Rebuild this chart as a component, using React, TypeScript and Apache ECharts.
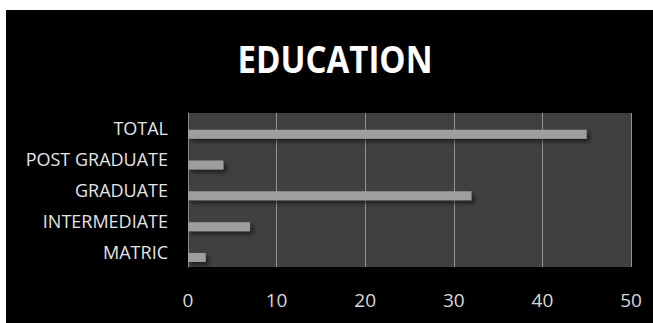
import React, { useEffect, useRef } from "react";
import * as echarts from "echarts";

// Education levels, listed bottom to top as the y axis draws them
const categories = ["MATRIC", "INTERMEDIATE", "GRADUATE", "POST GRADUATE", "TOTAL"];
const counts = [2, 7, 32, 4, 45];
const xTicks = [0, 10, 20, 30, 40, 50];

export default function App() {
  const ref = useRef<HTMLDivElement>(null);

  useEffect(() => {
    if (!ref.current) return;
    const chart = echarts.init(ref.current, null, { renderer: "svg" });
    chart.setOption({
      animation: false,
      backgroundColor: "#ffffff",
      graphic: [
        {
          type: "rect",
          z: -10,
          shape: { x: 6, y: 10, width: 653, height: 323 },
          style: { fill: "#000000" },
          silent: true,
        },
        {
          type: "text",
          x: 335,
          y: 58,
          scaleX: 0.87,
          style: {
            text: "EDUCATION",
            fill: "#ffffff",
            font: "bold 38px 'Open Sans'",
            textAlign: "center",
            textVerticalAlign: "middle",
          },
        },
      ],
      grid: {
        left: 188,
        right: 22,
        top: 113,
        bottom: 56,
        show: true,
        backgroundColor: "#404040",
        borderWidth: 0,
      },
      xAxis: {
        type: "value",
        min: xTicks[0],
        max: xTicks[xTicks.length - 1],
        interval: 10,
        axisLine: { show: false },
        axisTick: { show: false },
        splitLine: { show: true, lineStyle: { color: "#939393", width: 1 } },
        axisLabel: {
          color: "#d8d8d8",
          fontSize: 19,
          fontFamily: "Open Sans",
          margin: 23,
        },
      },
      yAxis: {
        type: "category",
        data: categories,
        axisLine: { show: true, lineStyle: { color: "#8a8a8a" } },
        axisTick: { show: false },
        axisLabel: {
          color: "#e4e4e4",
          fontSize: 18,
          fontFamily: "Open Sans",
          margin: 20,
        },
      },
      series: [
        {
          type: "bar",
          data: categories.map(() => null),
          barWidth: 9,
          barGap: "30%",
        },
        {
          type: "bar",
          data: counts,
          barWidth: 9,
          barGap: "30%",
          itemStyle: {
            color: "#9e9e9e",
            shadowColor: "rgba(0,0,0,0.55)",
            shadowBlur: 4,
            shadowOffsetX: 3,
            shadowOffsetY: 3,
          },
        },
      ],
    });
    return () => chart.dispose();
  }, []);

  return (
    <div
      ref={ref}
      style={{ position: "fixed", left: 0, top: 0, width: 653, height: 323 }}
    />
  );
}
